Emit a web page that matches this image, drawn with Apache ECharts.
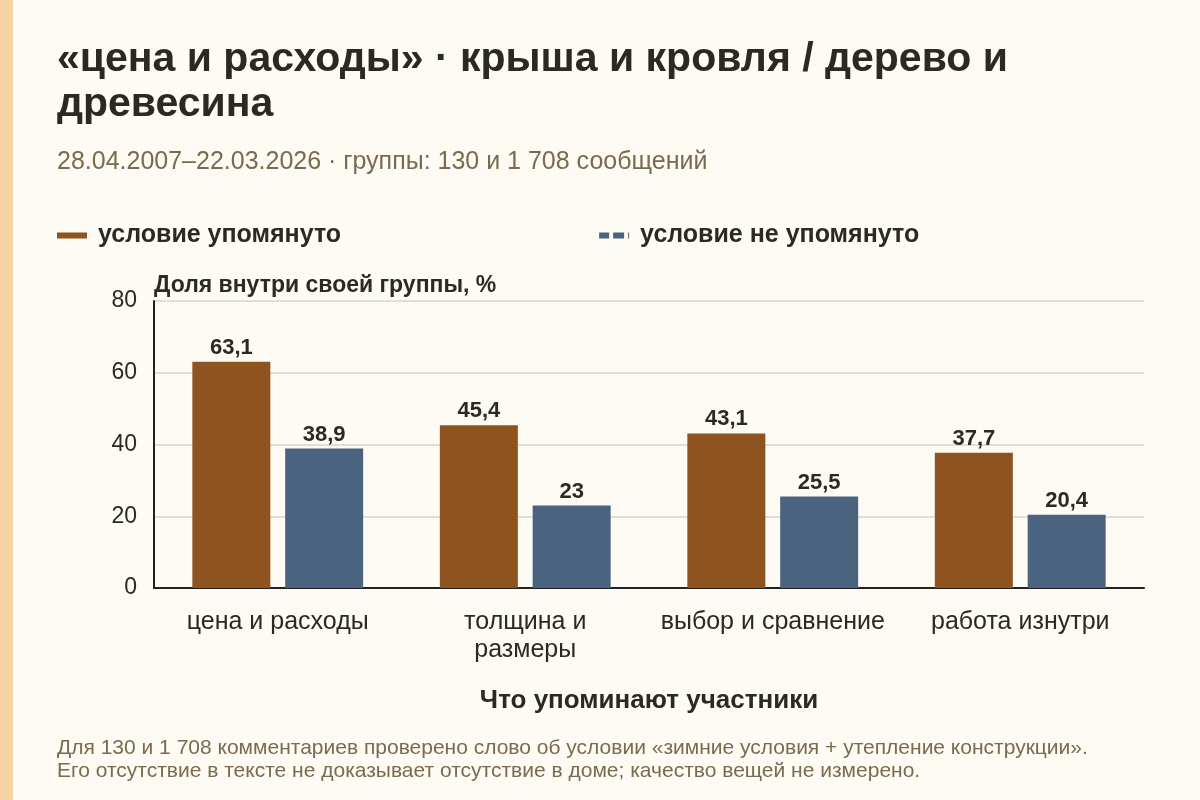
<!DOCTYPE html>
<html><head><meta charset="utf-8">
<script src="https://cdn.jsdelivr.net/npm/echarts@6/dist/echarts.min.js"></script>
<style>html,body{margin:0;padding:0;background:#FDFBF3;}#c{width:1200px;height:800px;}</style>
</head><body><div id="c"></div>
<script>
const categories = ['цена и расходы', 'толщина и\nразмеры', 'выбор и сравнение', 'работа изнутри'];
const mentioned = [63.1, 45.4, 43.1, 37.7];
const notMentioned = [38.9, 23, 25.5, 20.4];
const seriesNames = ['условие упомянуто', 'условие не упомянуто'];
const yTicks = { min: 0, max: 80, interval: 20 };

const FONT = '"Liberation Sans", Arial, sans-serif';
const DARK = '#2A2A22';
const MUTED = '#7A6A4F';
const chart = echarts.init(document.getElementById('c'));
const fmt = p => String(p.value).replace('.', ',');
chart.setOption({
  backgroundColor: '#FDFBF3',
  textStyle: { fontFamily: FONT },
  graphic: [
    { type: 'rect', left: 0, top: 0, shape: { width: 13, height: 800 }, style: { fill: '#F6D3A4' } },
    { type: 'text', left: 57, top: 737, style: {
      text: 'Для 130 и 1 708 комментариев проверено слово об условии «зимние условия + утепление конструкции».\nЕго отсутствие в тексте не доказывает отсутствие в доме; качество вещей не измерено.',
      fill: MUTED, fontFamily: FONT, fontSize: 21, lineHeight: 23 } }
  ],
  title: [
    { text: '«цена и расходы» · крыша и кровля / дерево и\nдревесина',
      left: 57, top: 37, padding: 0,
      textStyle: { fontFamily: FONT, fontSize: 41, fontWeight: 'bold', color: DARK, lineHeight: 45 } },
    { text: '28.04.2007–22.03.2026 · группы: 130 и 1 708 сообщений',
      left: 57, top: 150, padding: 0,
      textStyle: { fontFamily: FONT, fontSize: 25, fontWeight: 'normal', color: MUTED } }
  ],
  legend: {
    top: 223, left: 57, padding: 0, itemGap: 258,
    itemWidth: 30, itemHeight: 6,
    textStyle: { fontFamily: FONT, fontSize: 25, fontWeight: 'bold', color: DARK, padding: [0, 0, 0, 6] },
    data: [
      { name: seriesNames[0], icon: 'rect' },
      { name: seriesNames[1], icon: 'path://M0,0h10v6h-10z M14,0h11v6h-11z M29,0h1v6h-1z' }
    ]
  },
  grid: { left: 154, right: 56, top: 301, bottom: 212, containLabel: false },
  xAxis: {
    type: 'category', data: categories,
    name: 'Что упоминают участники', nameLocation: 'middle', nameGap: 100,
    nameTextStyle: { fontFamily: FONT, fontSize: 26, fontWeight: 'bold', color: DARK },
    axisLine: { lineStyle: { color: '#222', width: 2 } },
    axisTick: { alignWithLabel: true, length: 5, lineStyle: { color: '#222' } },
    axisLabel: { fontFamily: FONT, fontSize: 25, color: DARK, margin: 20, lineHeight: 28, interval: 0 }
  },
  yAxis: {
    type: 'value', min: yTicks.min, max: yTicks.max, interval: yTicks.interval,
    name: 'Доля внутри своей группы, %', nameLocation: 'end', nameGap: 4,
    nameTextStyle: { fontFamily: FONT, fontSize: 23, fontWeight: 'bold', color: DARK, align: 'left' },
    axisLine: { show: true, lineStyle: { color: '#222', width: 2 } },
    axisTick: { show: false },
    axisLabel: { fontFamily: FONT, fontSize: 23, color: DARK, margin: 17 },
    splitLine: { lineStyle: { color: '#D9D5CB', width: 1.5 } }
  },
  series: [
    { name: seriesNames[0], type: 'bar', data: mentioned, barWidth: 78, barGap: '19%',
      itemStyle: { color: '#8E531F' },
      label: { show: true, position: 'top', distance: 3, formatter: fmt, fontFamily: FONT, fontSize: 22, fontWeight: 'bold', color: DARK } },
    { name: seriesNames[1], type: 'bar', data: notMentioned, barWidth: 78,
      itemStyle: { color: '#4A6480' },
      label: { show: true, position: 'top', distance: 3, formatter: fmt, fontFamily: FONT, fontSize: 22, fontWeight: 'bold', color: DARK } }
  ]
});
</script></body></html>
